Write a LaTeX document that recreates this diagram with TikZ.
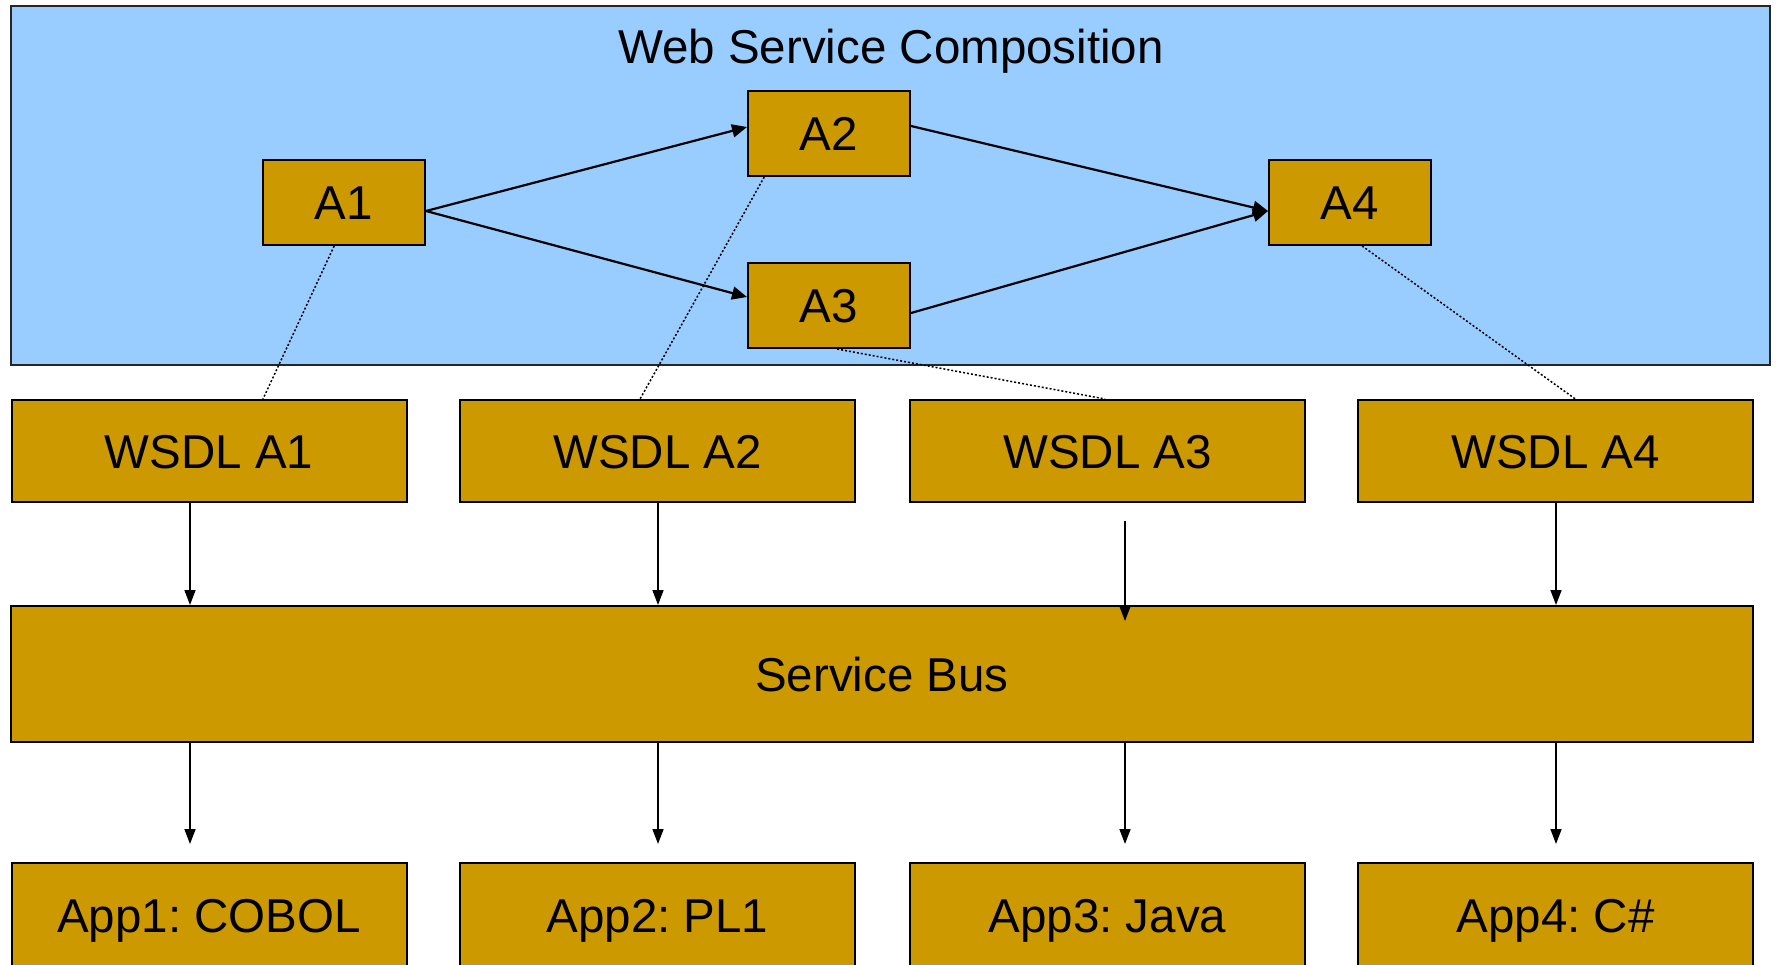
\documentclass[tikz,border=0pt]{standalone}
\usepackage{fontspec}
\setmainfont{Liberation Sans}
\usetikzlibrary{arrows.meta,calc}
\definecolor{paneblue}{HTML}{99CCFF}
\definecolor{gold}{HTML}{CC9900}
\frenchspacing
\tikzset{
  label font/.style={font=\fontsize{47.5pt}{57pt}\selectfont},
  panel/.style={draw=black!85, line width=2pt, fill=paneblue, inner sep=0pt},
  block/.style={draw=black, line width=2pt, fill=gold, inner sep=0pt,
    text height=34pt, text depth=0pt, label font},
  activity/.style={block, minimum width=162pt, minimum height=85pt},
  wsdl/.style={block, minimum width=395pt, minimum height=102pt},
  app/.style={block, minimum width=395pt, minimum height=104pt},
  flow/.style={line width=2.2pt, -{Triangle[length=15pt,width=13pt]}},
  feed/.style={line width=1.6pt, -{Triangle[length=15pt,width=11pt]}},
  link/.style={line width=1.5pt, dash pattern=on 2pt off 2pt},
}
\begin{document}
\begin{tikzpicture}[x=1pt,y=-1pt]
\useasboundingbox (0,0) rectangle (1776,964);
\clip (0,0) rectangle (1776,964);
\fill[white] (0,0) rectangle (1776,964);

% composition panel
\node[panel, minimum width=1759pt, minimum height=359pt] (wsc) at (890.5,185.5) {};
\node[label font, text height=34pt, text depth=0pt, inner sep=0pt] (title) at (891,46) {Web Service Composition};

% activities
\node[activity] (A1) at (344,202.5) {A1};
\node[activity] (A2) at (829,133.5) {A2};
\node[activity] (A3) at (829,305.5) {A3};
\node[activity] (A4) at (1350,202.5) {A4};

% WSDL descriptions
\node[wsdl] (W1) at (209,451) {WSDL A1};
\node[wsdl] (W2) at (657.5,451) {WSDL A2};
\node[wsdl] (W3) at (1107.5,451) {WSDL A3};
\node[wsdl] (W4) at (1555.5,451) {WSDL A4};

% service bus
\node[block, minimum width=1742pt, minimum height=136pt] (bus) at (882,674) {Service Bus};

% applications
\node[app] (P1) at (209,915) {App1: COBOL};
\node[app] (P2) at (657.5,915) {App2: PL1};
\node[app] (P3) at (1107.5,915) {App3: Java};
\node[app] (P4) at (1555.5,915) {App4: C\#};

% control flow between activities
\draw[flow] ($(A1.east)+(0,8.5)$) -- ($(A2.west)+(0,-6.5)$);
\draw[flow] ($(A1.east)+(0,8.5)$) -- ($(A3.west)+(0,-8.5)$);
\draw[flow] ($(A2.east)+(0,-7.5)$) -- ($(A4.west)+(0,8.5)$);
\draw[flow] ($(A3.east)+(0,7.5)$) -- ($(A4.west)+(0,8.5)$);

% activity to WSDL bindings
\draw[link] ($(A1.south west)!0.44!(A1.south east)$) -- ($(W1.north west)!0.636!(W1.north east)$);
\draw[link] ($(A2.south west)!0.105!(A2.south east)$) -- ($(W2.north west)!0.456!(W2.north east)$);
\draw[link] ($(A3.south west)!0.55!(A3.south east)$) -- ($(W3.north west)!0.494!(W3.north east)$);
\draw[link] ($(A4.south west)!0.574!(A4.south east)$) -- ($(W4.north west)!0.55!(W4.north east)$);

% column positions of the vertical connectors
\coordinate (c1) at (190,0);
\coordinate (c2) at (658,0);
\coordinate (c3) at (1125,0);
\coordinate (c4) at (1556,0);

% WSDL to bus
\draw[feed] (W1.south -| c1) -- (bus.north -| c1);
\draw[feed] (W2.south -| c2) -- (bus.north -| c2);
\draw[feed] ($(W3.south -| c3)+(0,18)$) -- ($(bus.north -| c3)+(0,16)$);
\draw[feed] (W4.south -| c4) -- (bus.north -| c4);

% bus to applications
\draw[feed] (bus.south -| c1) -- ($(P1.north -| c1)+(0,-18)$);
\draw[feed] (bus.south -| c2) -- ($(P2.north -| c2)+(0,-18)$);
\draw[feed] (bus.south -| c3) -- ($(P3.north -| c3)+(0,-18)$);
\draw[feed] (bus.south -| c4) -- ($(P4.north -| c4)+(0,-18)$);
\end{tikzpicture}
\end{document}
